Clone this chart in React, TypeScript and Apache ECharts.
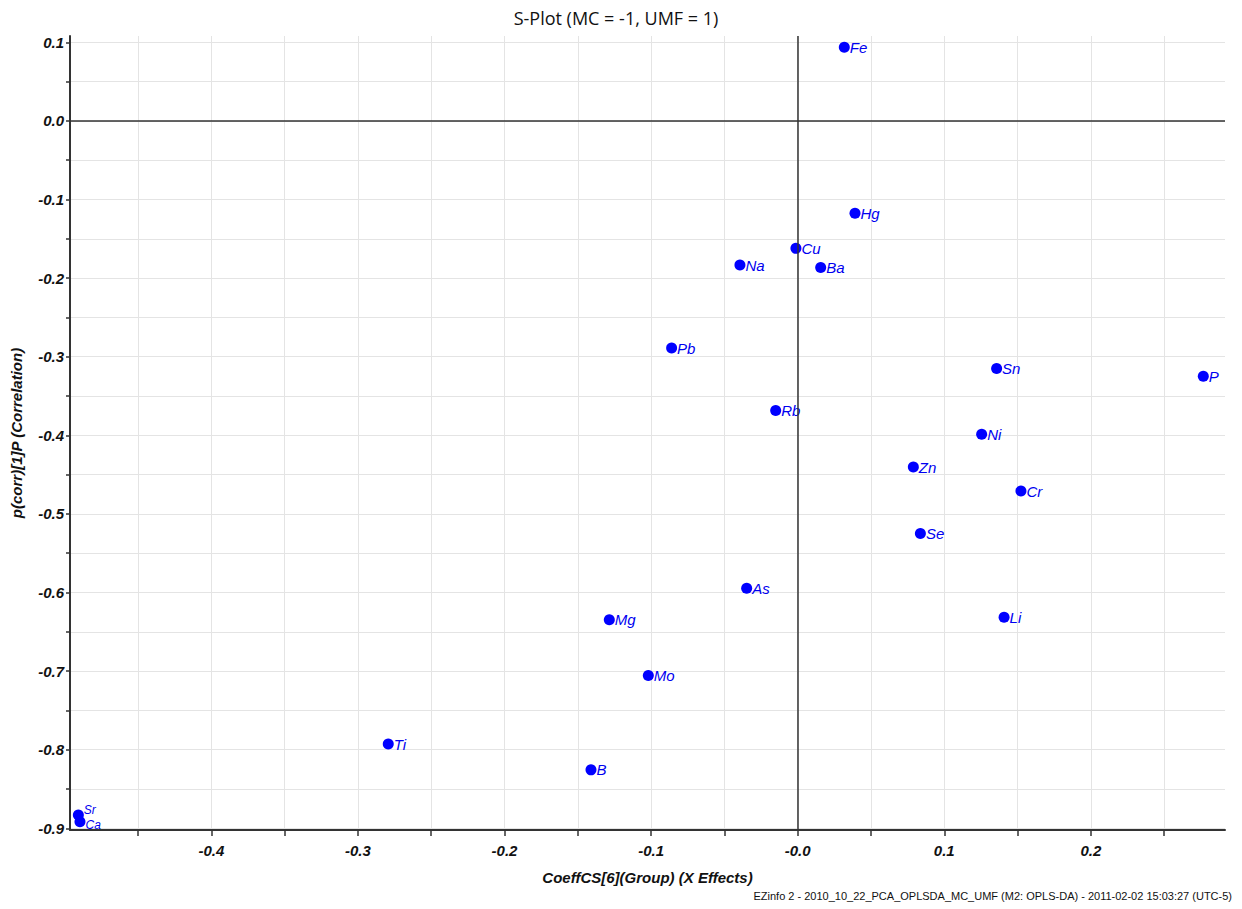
import React, { useEffect, useRef } from "react";
import * as echarts from "echarts";

// Element names and their S-plot coordinates
const elements = ["Fe", "Hg", "Cu", "Na", "Ba", "Pb", "Rb", "Sn", "P", "Ni", "Zn", "Cr", "Se", "Li", "As", "Mg", "Mo", "Ti", "B", "Sr", "Ca"];
const coeffX = [0.0318, 0.0391, -0.0012, -0.0394, 0.0157, -0.086, -0.015, 0.1357, 0.2767, 0.1255, 0.0789, 0.1523, 0.0837, 0.1408, -0.0348, -0.1285, -0.1019, -0.2793, -0.141, -0.4907, -0.4896];
const corrY = [0.0938, -0.1176, -0.1622, -0.1834, -0.1864, -0.289, -0.3685, -0.315, -0.3248, -0.3987, -0.4404, -0.471, -0.525, -0.6316, -0.5945, -0.6348, -0.7057, -0.7928, -0.8257, -0.8832, -0.8917];

// Axis ranges and tick positions
const xRange = [-0.4964, 0.2915];
const yRange = [-0.9022, 0.108];
const xTicks = [-0.45, -0.4, -0.35, -0.3, -0.25, -0.2, -0.15, -0.1, -0.05, 0, 0.05, 0.1, 0.15, 0.2, 0.25];
const xLabels = [-0.4, -0.3, -0.2, -0.1, 0, 0.1, 0.2];
const yTicks = [0.1, 0.05, 0, -0.05, -0.1, -0.15, -0.2, -0.25, -0.3, -0.35, -0.4, -0.45, -0.5, -0.55, -0.6, -0.65, -0.7, -0.75, -0.8, -0.85, -0.9];
const yLabels = [0.1, 0, -0.1, -0.2, -0.3, -0.4, -0.5, -0.6, -0.7, -0.8, -0.9];

const titleText = "S-Plot (MC = -1, UMF = 1)";
const xName = "CoeffCS[6](Group) (X Effects)";
const yName = "p(corr)[1]P (Correlation)";
const footerText = "EZinfo 2 - 2010_10_22_PCA_OPLSDA_MC_UMF (M2: OPLS-DA) - 2011-02-02 15:03:27 (UTC-5)";

const axisFont = "'Liberation Sans', Arial, sans-serif";

// The two crowded labels at the far left are drawn smaller and pulled apart
const crowdedLabels: Record<string, { offset: [number, number]; fontSize: number }> = {
  Sr: { offset: [0, -5], fontSize: 12 },
  Ca: { offset: [0, 3], fontSize: 12 },
};

export default function App() {
  const ref = useRef<HTMLDivElement>(null);

  useEffect(() => {
    if (!ref.current) return;
    const chart = echarts.init(ref.current, undefined, { renderer: "svg" });
    const points = elements.map((name, i) => ({
      name,
      value: [coeffX[i], corrY[i]],
      label: crowdedLabels[name],
    }));

    chart.setOption({
      animation: false,
      backgroundColor: "#ffffff",
      title: {
        text: titleText,
        left: 611,
        top: 4,
        textAlign: "center",
        textStyle: { fontFamily: "'Open Sans', 'Noto Sans', sans-serif", fontSize: 18, fontWeight: "normal", color: "#111" },
      },
      graphic: [
        {
          type: "text",
          right: 10,
          top: 890,
          style: { text: footerText, fontFamily: axisFont, fontSize: 11, fill: "#111" },
        },
      ],
      grid: { left: 70, top: 36, right: 17, bottom: 79 },
      xAxis: {
        type: "value",
        min: xRange[0],
        max: xRange[1],
        name: xName,
        nameLocation: "middle",
        nameGap: 40,
        nameTextStyle: { fontFamily: axisFont, fontSize: 15, fontStyle: "italic", fontWeight: "bold", color: "#111" },
        axisLine: { show: true, onZero: false, lineStyle: { color: "#333", width: 2 } },
        axisTick: { show: true, length: 6, customValues: xTicks, lineStyle: { color: "#333", width: 1.5 } },
        axisLabel: {
          customValues: xLabels,
          margin: 13,
          fontFamily: axisFont,
          fontSize: 15,
          fontStyle: "italic",
          fontWeight: "bold",
          color: "#111",
          formatter: (v: number) => (Math.abs(v) < 1e-9 ? "-0.0" : v.toFixed(1)),
        },
        splitLine: { show: true, lineStyle: { color: "#e4e4e4", width: 1 } },
      },
      yAxis: {
        type: "value",
        min: yRange[0],
        max: yRange[1],
        name: yName,
        nameLocation: "middle",
        nameGap: 46,
        nameTextStyle: { fontFamily: axisFont, fontSize: 15, fontStyle: "italic", fontWeight: "bold", color: "#111" },
        axisLine: { show: true, onZero: false, lineStyle: { color: "#333", width: 2 } },
        axisTick: { show: true, length: 4, customValues: yTicks, lineStyle: { color: "#333", width: 1.5 } },
        axisLabel: {
          customValues: yLabels,
          margin: 6,
          fontFamily: axisFont,
          fontSize: 15,
          fontStyle: "italic",
          fontWeight: "bold",
          color: "#111",
          formatter: (v: number) => (Math.abs(v) < 1e-9 ? "0.0" : v.toFixed(1)),
        },
        splitLine: { show: true, lineStyle: { color: "#e4e4e4", width: 1 } },
      },
      series: [
        {
          type: "scatter",
          data: points,
          symbol: "circle",
          symbolSize: 11,
          itemStyle: { color: "#0000ff", opacity: 1 },
          label: {
            show: true,
            position: "right",
            distance: 0,
            formatter: "{b}",
            fontFamily: axisFont,
            fontSize: 15,
            fontStyle: "italic",
            color: "#0000f0",
          },
          markLine: {
            silent: true,
            symbol: "none",
            label: { show: false },
            lineStyle: { color: "#333", width: 1.5, type: "solid" },
            data: [{ xAxis: 0 }, { yAxis: 0 }],
          },
        },
      ],
    });

    return () => chart.dispose();
  }, []);

  return <div ref={ref} style={{ position: "fixed", left: 0, top: 0, width: 1242, height: 909 }} />;
}
